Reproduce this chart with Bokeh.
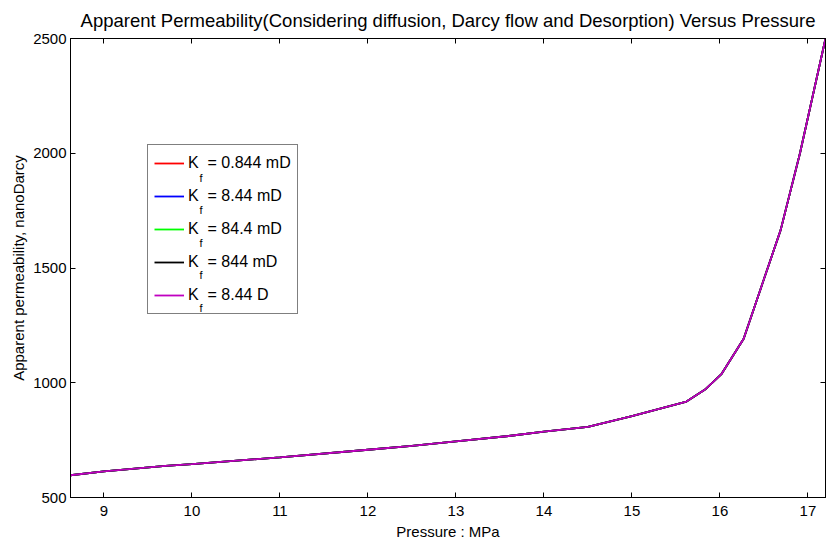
from bokeh.plotting import figure
from bokeh.models import LinearAxis, Range1d, Legend, LegendItem, Label, FixedTicker
from bokeh.embed import file_html
from bokeh.resources import INLINE

pressure = [8.62, 9.0, 9.7, 10.0, 11.0, 12.0, 12.5, 13.0, 13.6, 14.0, 14.5,
            15.0, 15.62, 15.84, 16.02, 16.27, 16.69, 16.91, 17.2]
perm = [597, 614, 638, 645, 675, 708, 725, 745, 768, 787, 808,
        855, 918, 973, 1039, 1192, 1665, 2000, 2500]

series_labels = ["0.844 mD", "8.44 mD", "84.4 mD", "844 mD", "8.44 D"]
series_colors = ["#ff0000", "#0000ff", "#00ff00", "#000000", "#c000c0"]
series_values = [perm, perm, perm, perm, perm]

x_ticks = [9, 10, 11, 12, 13, 14, 15, 16, 17]
y_ticks = [500, 1000, 1500, 2000, 2500]

FONT = "Liberation Sans"

p = figure(width=827, height=544, output_backend="svg", toolbar_location=None,
           x_range=Range1d(8.62, 17.2), y_range=Range1d(500, 2500),
           min_border_left=70, min_border_right=2, min_border_top=38,
           min_border_bottom=47)
p.title.text = "Apparent Permeability(Considering diffusion, Darcy flow and Desorption) Versus Pressure"
p.title.align = "center"
p.title.text_font = FONT
p.title.text_font_size = "18.5px"
p.title.text_font_style = "normal"
p.title.text_color = "black"
p.title.standoff = 15
p.grid.visible = False
p.outline_line_color = "black"
p.background_fill_color = "white"

renderers = []
for lab, col, vals in zip(series_labels, series_colors, series_values):
    r = p.line(pressure, vals, line_color=col, line_width=1.8)
    renderers.append(r)

for ax in (p.xaxis[0], p.yaxis[0]):
    ax.major_tick_in = 5
    ax.major_tick_out = 0
    ax.minor_tick_line_color = None
    ax.axis_line_color = "black"
    ax.major_tick_line_color = "black"
    ax.major_label_text_font = FONT
    ax.major_label_text_font_size = "15px"
    ax.major_label_text_color = "black"
    ax.axis_label_text_font = FONT
    ax.axis_label_text_font_size = "15px"
    ax.axis_label_text_font_style = "normal"
    ax.axis_label_text_color = "black"

p.xaxis[0].ticker = FixedTicker(ticks=x_ticks)
p.yaxis[0].ticker = FixedTicker(ticks=y_ticks)
p.xaxis[0].axis_label = "Pressure : MPa"
p.yaxis[0].axis_label = "Apparent permeability, nanoDarcy"
p.xaxis[0].major_label_standoff = 8
p.xaxis[0].axis_label_standoff = 4
p.yaxis[0].major_label_standoff = 4
p.yaxis[0].axis_label_standoff = 3

top_ax = LinearAxis(ticker=FixedTicker(ticks=x_ticks),
                    major_label_overrides={t: "" for t in x_ticks},
                    major_tick_in=5, major_tick_out=0, minor_tick_line_color=None,
                    major_label_standoff=0)
right_ax = LinearAxis(ticker=FixedTicker(ticks=y_ticks),
                      major_label_overrides={t: "" for t in y_ticks},
                      major_tick_in=5, major_tick_out=0, minor_tick_line_color=None,
                      major_label_standoff=0)
p.add_layout(top_ax, "above")
p.add_layout(right_ax, "right")

items = [LegendItem(label="K  = " + lab, renderers=[r]) for lab, r in zip(series_labels, renderers)]
legend = Legend(items=items, location=(77, 183), label_text_font=FONT,
                label_text_font_size="16px", label_text_color="black",
                glyph_width=30, glyph_height=24,
                label_standoff=4, spacing=9, padding=6, margin=0,
                border_line_color="black", border_line_width=1,
                background_fill_alpha=0)
p.add_layout(legend, "center")

for i in range(len(series_labels)):
    p.add_layout(Label(x=129, y=320 - 32.6 * i, x_units="screen", y_units="screen",
                       text="f", text_font=FONT, text_font_size="11px",
                       text_color="black", text_baseline="alphabetic",
                       level="overlay"))

open("out.html", "w").write(file_html(p, INLINE))
